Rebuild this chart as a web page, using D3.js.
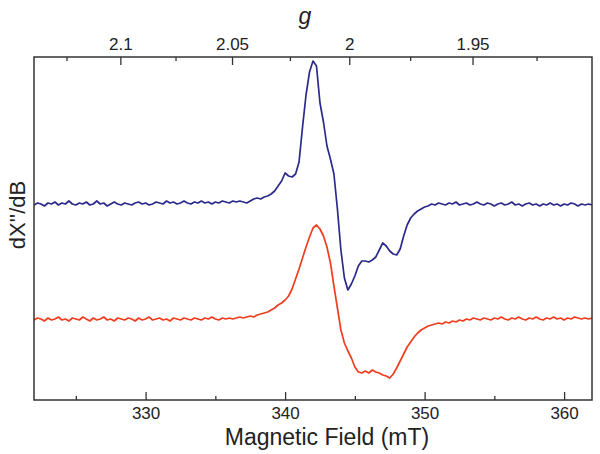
<!DOCTYPE html>
<html><head><meta charset="utf-8">
<script src="https://cdn.jsdelivr.net/npm/d3@7"></script>
<style>body{margin:0;background:#fff}svg{display:block}text{font-family:"Liberation Sans",Arial,sans-serif;fill:#222}</style>
</head><body>
<svg id="c" width="600" height="454"></svg>
<script>
// Field axis sampling (mT)
const fieldStart = 322, fieldStep = 0.25;
// Spectrum A (blue, upper) – arbitrary units
const blueValues = [
195,197,196,194, 197,196,198,195, 197,196,199,196, 195,197,196,198,
195,196,199,196, 197,194,196,198, 196,195,197,196, 195,197,198,196,
197,195,196,198, 197,196,199,197, 198,196,197,199, 197,196,198,197,
199,197,198,196, 198,197,199,198, 197,199,198,199, 198,197,199,201,
202,201,203,204, 206,209,214,219, 227,224,223,226, 238,273,305,328,
339,334,297,278, 254,241,226,191, 150,122,110,116, 124,134,139,139,
138,140,143,150, 157,154,149,146, 145,151,164,175, 182,186,189,191,
193,194,196,195, 197,196,195,197, 196,198,195,196, 197,195,196,198,
196,195,197,196, 194,196,197,195, 196,198,195,196, 194,196,197,195,
196,194,196,195, 197,195,196,194, 196,195,197,196, 194,196,195,196,
195];
// Spectrum B (red, lower)
const redValues = [
80,82,81,79, 82,80,81,83, 80,81,79,82, 81,80,83,81,
79,82,80,81, 83,80,81,79, 82,81,80,82, 81,79,82,80,
81,83,80,81, 82,80,81,79, 82,81,80,82, 81,80,82,81,
80,82,81,83, 81,80,82,81, 82,81,82,83, 82,83,84,83,
85,86,87,88, 90,92,95,97, 100,104,111,121, 131,142,153,163,
172,175,171,164, 153,137,114,92, 70,57,49,42, 33,28,27,29,
27,30,28,27, 25,24,22,26, 32,39,46,53, 58,63,67,70,
72,74,75,76, 77,76,78,77, 79,78,80,79, 81,80,82,81,
80,82,81,80, 82,81,83,81, 80,82,81,83, 81,80,82,81,
83,81,80,82, 81,83,81,82, 80,82,81,83, 82,81,82,81,
82];
const fieldTicks = [330, 340, 350, 360];
const fieldMinorTicks = [325, 335, 345, 355];
const gTicks = [2.1, 2.05, 2, 1.95];
const gMinorTicks = [2.125, 2.075, 2.025, 1.975, 1.925];
const hvOverMuB = 689.2; // mT, B = hv/(muB*g)

const field = blueValues.map((_, i) => fieldStart + i * fieldStep);

const svg = d3.select("#c");
const L = 34, R = 592, T = 57, B = 400;
const x = d3.scaleLinear().domain([322, 362]).range([L, R]);
const y = d3.scaleLinear().domain([0, 343]).range([B, T]);

// g scale (non-linear, via field)
const gScale = g => x(hvOverMuB / g);
gScale.domain = () => [hvOverMuB / 322, hvOverMuB / 362];
gScale.range = () => x.range();
gScale.copy = () => gScale;

svg.append("defs").append("clipPath").attr("id", "clip")
  .append("rect").attr("x", L).attr("y", T).attr("width", R - L).attr("height", B - T);

const line = d3.line().x((d, i) => x(field[i])).y(d => y(d));
const g = svg.append("g").attr("clip-path", "url(#clip)");
g.append("path").datum(redValues).attr("d", line)
  .attr("fill", "none").attr("stroke", "#ef3d1f").attr("stroke-width", 1.7).attr("stroke-linejoin", "round");
g.append("path").datum(blueValues).attr("d", line)
  .attr("fill", "none").attr("stroke", "#2b2a8c").attr("stroke-width", 1.7).attr("stroke-linejoin", "round");

// axes
function styleAxis(sel) {
  sel.select(".domain").remove();
  sel.selectAll("line").attr("stroke", "#333").attr("stroke-width", 1.3);
  sel.selectAll("text").style("font-size", "17px").attr("fill", "#222");
}
svg.append("g").attr("transform", `translate(0,${B})`)
  .call(d3.axisBottom(x).tickValues(fieldTicks).tickSize(-8).tickPadding(7).tickFormat(d3.format("d")))
  .call(styleAxis);
svg.append("g").attr("transform", `translate(0,${B})`)
  .call(d3.axisBottom(x).tickValues(fieldMinorTicks).tickSize(-4).tickFormat(""))
  .call(styleAxis);
svg.append("g").attr("transform", `translate(0,${T})`)
  .call(d3.axisTop(gScale).tickValues(gTicks).tickSize(-8).tickPadding(7).tickFormat(d => String(d)))
  .call(styleAxis);
svg.append("g").attr("transform", `translate(0,${T})`)
  .call(d3.axisTop(gScale).tickValues(gMinorTicks).tickSize(-4).tickFormat(""))
  .call(styleAxis);

// frame
svg.append("rect").attr("x", L).attr("y", T).attr("width", R - L).attr("height", B - T)
  .attr("fill", "none").attr("stroke", "#333").attr("stroke-width", 1.5);

// titles
svg.append("text").attr("x", 327).attr("y", 445).attr("text-anchor", "middle")
  .style("font-size", "23px").text("Magnetic Field (mT)");
svg.append("text").attr("x", 305).attr("y", 24).attr("text-anchor", "middle")
  .style("font-size", "23px").style("font-style", "italic").text("g");
svg.append("text").attr("transform", "translate(25,215) rotate(-90)").attr("text-anchor", "middle")
  .style("font-size", "22px").text("dX''/dB");
</script>
</body></html>
